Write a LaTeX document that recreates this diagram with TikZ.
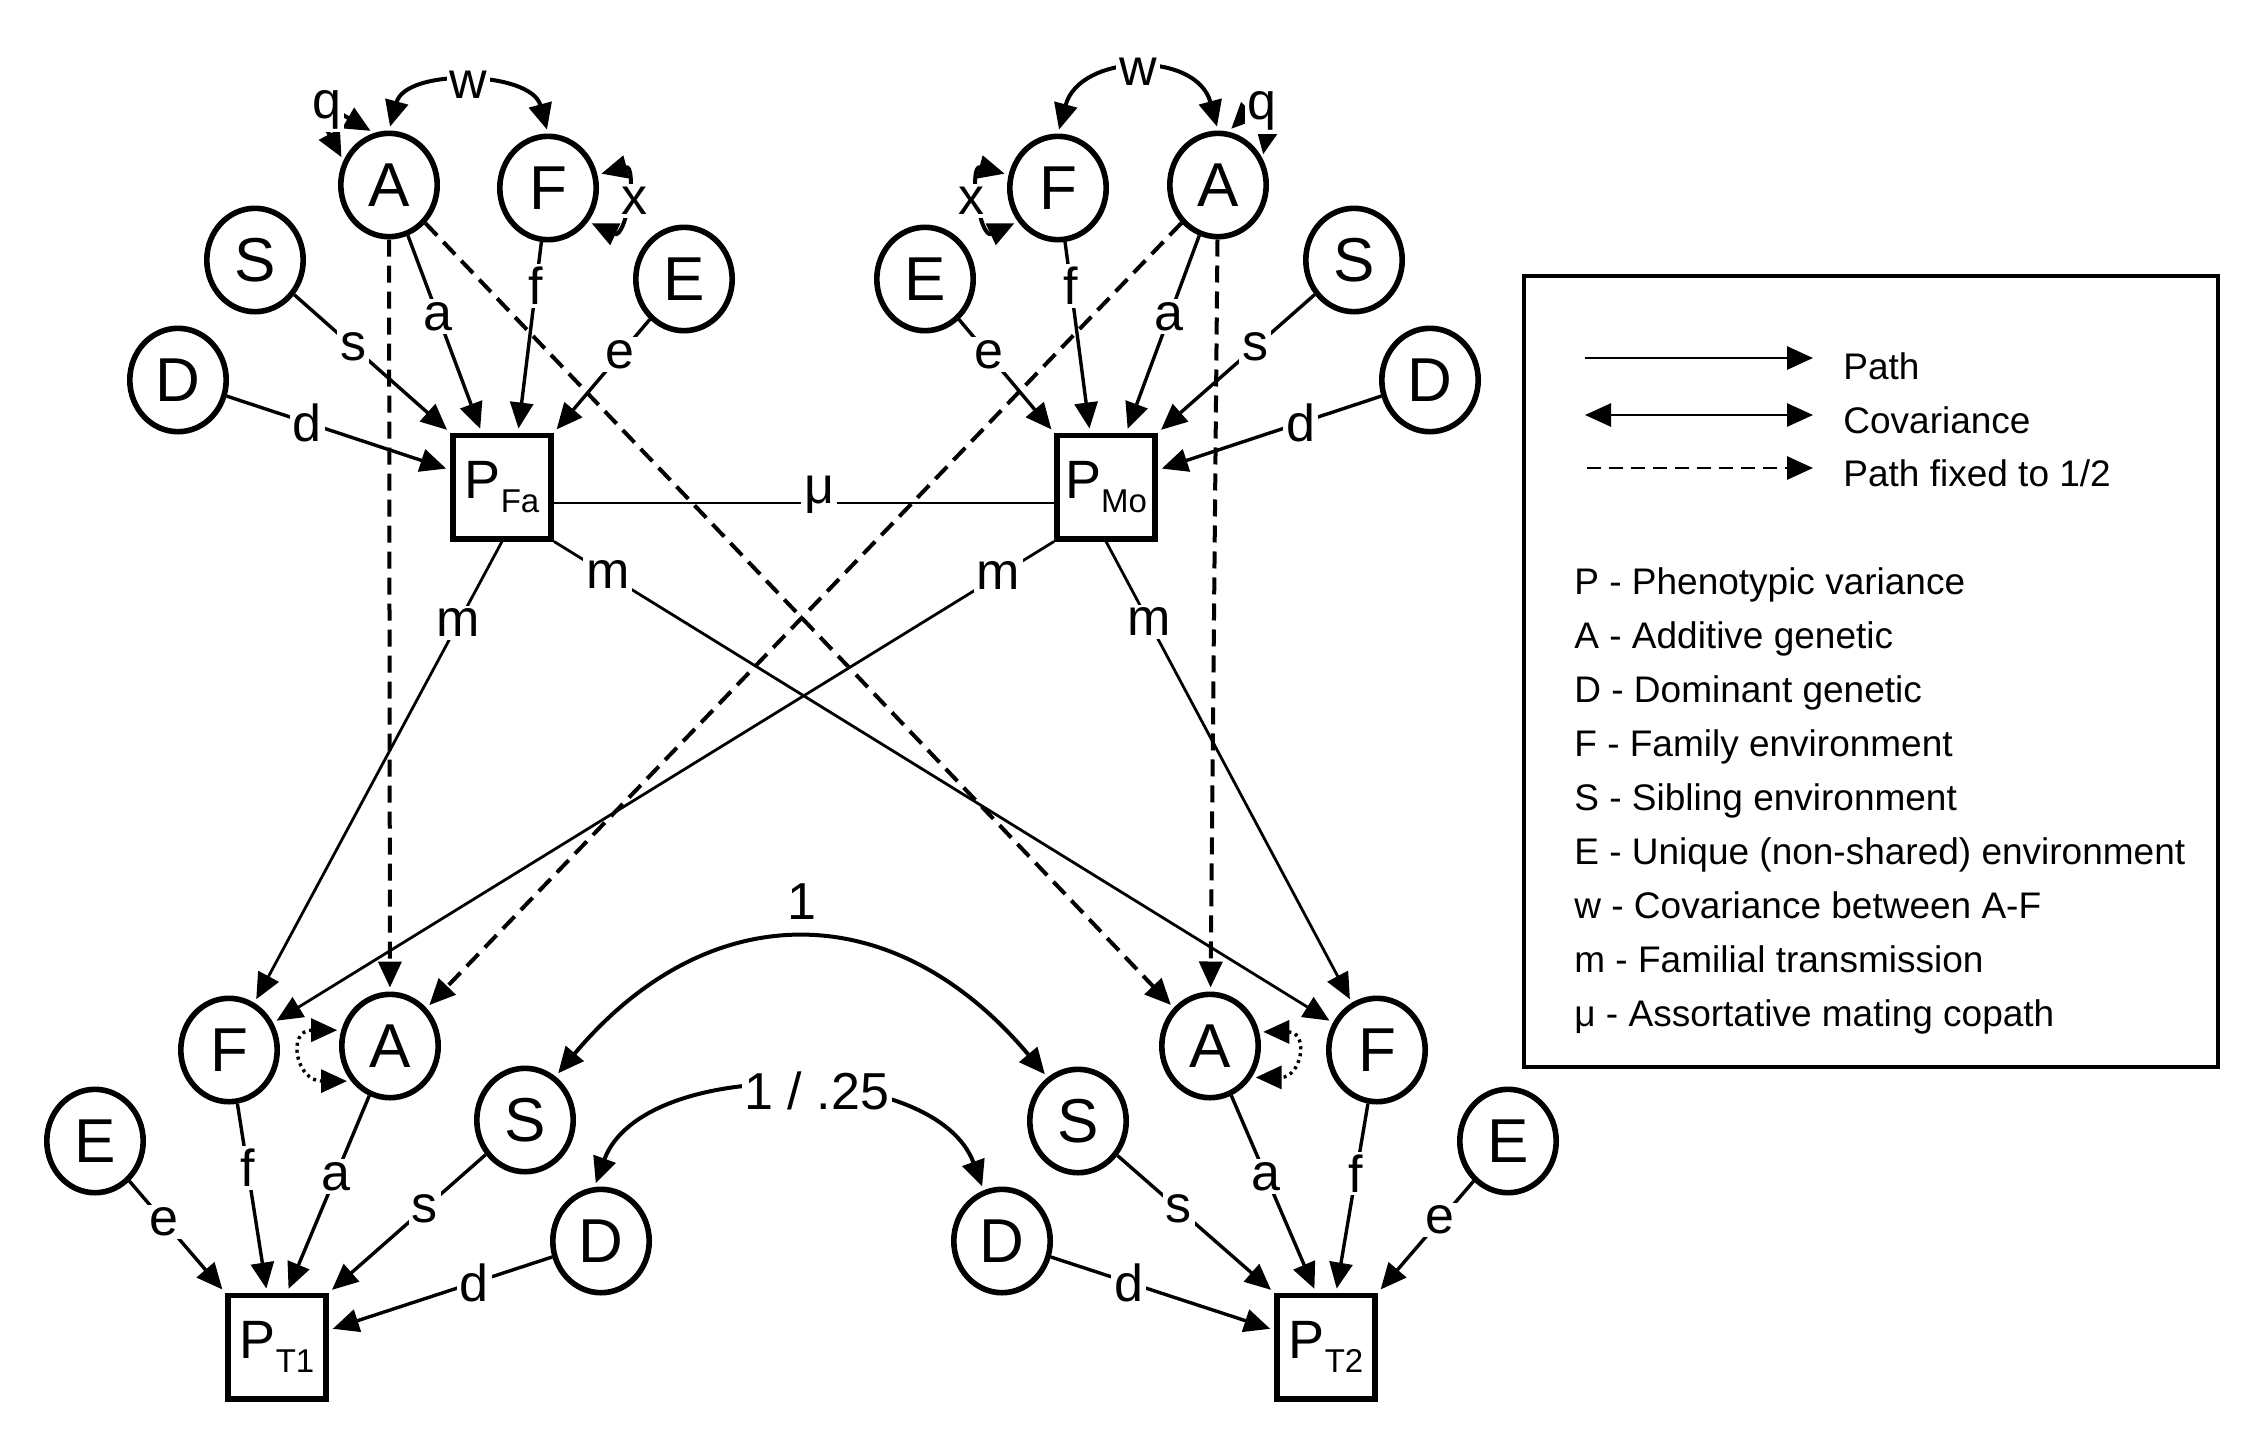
\documentclass[tikz,border=0pt]{standalone}
\usepackage{fontspec}
\setmainfont{Liberation Sans}
\usetikzlibrary{arrows.meta,shapes.geometric,calc}
\newcommand\Pvar[1]{{\fontsize{27}{27}\selectfont P\raisebox{-7pt}{\fontsize{16.5}{16.5}\selectfont #1}}}
\begin{document}
\begin{tikzpicture}[x=0.5pt,y=0.5pt,
 var/.style={ellipse, draw, line width=2.8pt, minimum width=48.2pt, minimum height=51.7pt, inner sep=0pt, font=\fontsize{31}{31}\selectfont},
 obs/.style={rectangle, draw, line width=2.8pt, minimum width=49.2pt, minimum height=51.7pt, inner sep=0pt},
 lab/.style={fill=white, inner sep=1.5pt, font=\fontsize{26}{26}\selectfont},
 tip/.style={-{Triangle[length=13pt,width=11.5pt]}},
 pth/.style={tip, line width=1.7pt, shorten >=2pt},
 mpth/.style={tip, line width=1.4pt, shorten >=2pt},
 half/.style={tip, line width=2pt, dash pattern=on 8.5pt off 4.5pt, shorten >=2pt},
 covar/.style={{Triangle[length=13pt,width=11.5pt]}-{Triangle[length=13pt,width=11.5pt]}, line width=2pt, shorten >=2pt, shorten <=2pt},
 dotcov/.style={covar, line width=1.7pt, dash pattern=on 1.5pt off 2pt},
 legtxt/.style={anchor=base west, inner sep=0pt, font=\fontsize{18.5}{18.5}\selectfont},
]
\useasboundingbox (0,0) rectangle (2252,-1430);

% father
\node[var] (Afa) at (389,-185) {A};
\node[var] (Ffa) at (548,-188) {F};
\node[var] (Sfa) at (255,-260) {S};
\node[var] (Efa) at (684,-279) {E};
\node[var] (Dfa) at (178,-380) {D};
\node[obs] (PFa) at (502,-487) {\Pvar{Fa}};
% mother
\node[var] (Amo) at (1218,-185) {A};
\node[var] (Fmo) at (1058,-188) {F};
\node[var] (Emo) at (925,-279) {E};
\node[var] (Smo) at (1354,-260) {S};
\node[var] (Dmo) at (1430,-380) {D};
\node[obs] (PMo) at (1106,-487) {\Pvar{Mo}};
% twin 1
\node[var] (F1) at (229,-1050) {F};
\node[var] (A1) at (390,-1046) {A};
\node[var] (E1) at (95,-1141) {E};
\node[var] (S1) at (525,-1120) {S};
\node[var] (D1) at (601,-1241) {D};
\node[obs] (PT1) at (277,-1347) {\Pvar{T1}};
% twin 2
\node[var] (A2) at (1210,-1046) {A};
\node[var] (F2) at (1377,-1050) {F};
\node[var] (E2) at (1508,-1141) {E};
\node[var] (S2) at (1078,-1121) {S};
\node[var] (D2) at (1002,-1241) {D};
\node[obs] (PT2) at (1326,-1347) {\Pvar{T2}};

% dashed paths fixed to 1/2
\draw[half] (Afa) -- (A1);
\draw[half] (Afa) -- (A2);
\draw[half] (Amo) -- (A1);
\draw[half] (Amo) -- (A2);

% assortative mating
\draw[line width=1.4pt] ([yshift=-8pt]PFa.east) -- node[lab,pos=.53,yshift=4pt]{μ} ([yshift=-8pt]PMo.west);

% father paths
\draw[pth] (Dfa) -- node[lab,pos=.36]{d} (PFa);
\draw[pth] (Sfa) -- node[lab,pos=.38]{s} (PFa.north west);
\draw[pth] (Afa) -- node[lab,pos=.41]{a} (PFa);
\draw[pth] (Ffa) -- node[lab,pos=.23]{f} ([xshift=8pt]PFa.north);
\draw[pth] (Efa) -- node[lab,pos=.31]{e} (PFa.north east);
% mother paths
\draw[pth] (Dmo) -- node[lab,pos=.36]{d} (PMo);
\draw[pth] (Smo) -- node[lab,pos=.38]{s} (PMo.north east);
\draw[pth] (Amo) -- node[lab,pos=.41]{a} (PMo);
\draw[pth] (Fmo) -- node[lab,pos=.23]{f} ([xshift=-8pt]PMo.north);
\draw[pth] (Emo) -- node[lab,pos=.31]{e} (PMo.north west);
% twin 1 paths
\draw[pth] (E1) -- node[lab,pos=.365]{e} (PT1.north west);
\draw[pth] (F1) -- node[lab,pos=.34]{f} ([xshift=-5pt]PT1.north);
\draw[pth] (A1) -- node[lab,pos=.41]{a} ([xshift=5pt]PT1.north);
\draw[pth] (S1) -- node[lab,pos=.39]{s} (PT1.north east);
\draw[pth] (D1) -- node[lab,pos=.35]{d} (PT1);
% twin 2 paths
\draw[pth] (E2) -- node[lab,pos=.35]{e} (PT2.north east);
\draw[pth] (F2) -- node[lab,pos=.37]{f} ([xshift=5pt]PT2.north);
\draw[pth] (A2) -- node[lab,pos=.41]{a} ([xshift=-5pt]PT2.north);
\draw[pth] (S2) -- node[lab,pos=.39]{s} (PT2.north west);
\draw[pth] (D2) -- node[lab,pos=.35]{d} (PT2);

% familial transmission
\draw[mpth] (PFa.south) -- node[lab,pos=.176]{m} (F1);
\draw[mpth] (PFa.south east) -- node[lab,pos=.069]{m} (F2);
\draw[mpth] (PMo.south west) -- node[lab,pos=.071]{m} (F1);
\draw[mpth] (PMo.south) -- node[lab,pos=.174]{m} (F2);

% covariances, top
\draw[covar] (Afa.north) .. controls +(75:65) and +(105:65) .. node[lab]{w} (Ffa.north);
\draw[covar] (Fmo.north) .. controls +(75:83) and +(105:83) .. node[lab]{w} (Amo.north);
\draw[covar] (Afa.152) .. controls +(118:80) and +(150:55) .. node[lab]{q} (Afa.106);
\draw[covar] (Amo.31) .. controls +(80:55) and +(45:50) .. node[lab]{q} (Amo.79);
\draw[covar] (Ffa.15) .. controls +(15:42) and +(-25:42) .. node[lab,xshift=6pt]{x} (Ffa.-40);
\draw[covar] (Fmo.165) .. controls +(165:42) and +(205:42) .. node[lab,xshift=-6pt]{x} (Fmo.220);

% covariances, bottom
\draw[dotcov] (A1.162) .. controls +(180:55) and +(180:55) .. (A1.222);
\draw[dotcov] (A2.16) .. controls +(0:50) and +(0:50) .. (A2.-37);
\draw[covar] (S1.55) .. controls +(50:238) and +(130:238) .. node[above=8.5pt, inner sep=1pt, font=\fontsize{26}{26}\selectfont]{1} (S2.125);
\draw[covar] (D1.97) .. controls +(70:139) and +(110:139) .. node[lab, xshift=14pt]{1 / .25} (D2.110);

% legend
\draw[line width=2.2pt] (1524,-276) rectangle (2218,-1067);
\coordinate (l1a) at (1585,-358); \coordinate (l1b) at (1813,-358);
\coordinate (l2a) at (1585,-415); \coordinate (l2b) at (1813,-415);
\coordinate (l3a) at (1587,-468); \coordinate (l3b) at (1813,-468);
\draw[tip, line width=1.4pt] (l1a) -- (l1b);
\draw[{Triangle[length=13pt,width=11.5pt]}-{Triangle[length=13pt,width=11.5pt]}, line width=1.4pt] (l2a) -- (l2b);
\draw[tip, line width=1.4pt, dash pattern=on 7pt off 4pt] (l3a) -- (l3b);
\node[legtxt] (t1) at (1843,-379) {Path};
\node[legtxt] (t2) at (1843,-433) {Covariance};
\node[legtxt] (t3) at (1843,-486) {Path fixed to 1/2};
\node[legtxt] (k1) at (1574,-594) {P - Phenotypic variance};
\node[legtxt] (k2) at (1574,-648) {A - Additive genetic};
\node[legtxt] (k3) at (1574,-702) {D - Dominant genetic};
\node[legtxt] (k4) at (1574,-756) {F - Family environment};
\node[legtxt] (k5) at (1574,-810) {S - Sibling environment};
\node[legtxt] (k6) at (1574,-864) {E - Unique (non-shared) environment};
\node[legtxt] (k7) at (1574,-918) {w - Covariance between A-F};
\node[legtxt] (k8) at (1574,-972) {m - Familial transmission};
\node[legtxt] (k9) at (1574,-1026) {μ - Assortative mating copath};
\end{tikzpicture}
\end{document}
